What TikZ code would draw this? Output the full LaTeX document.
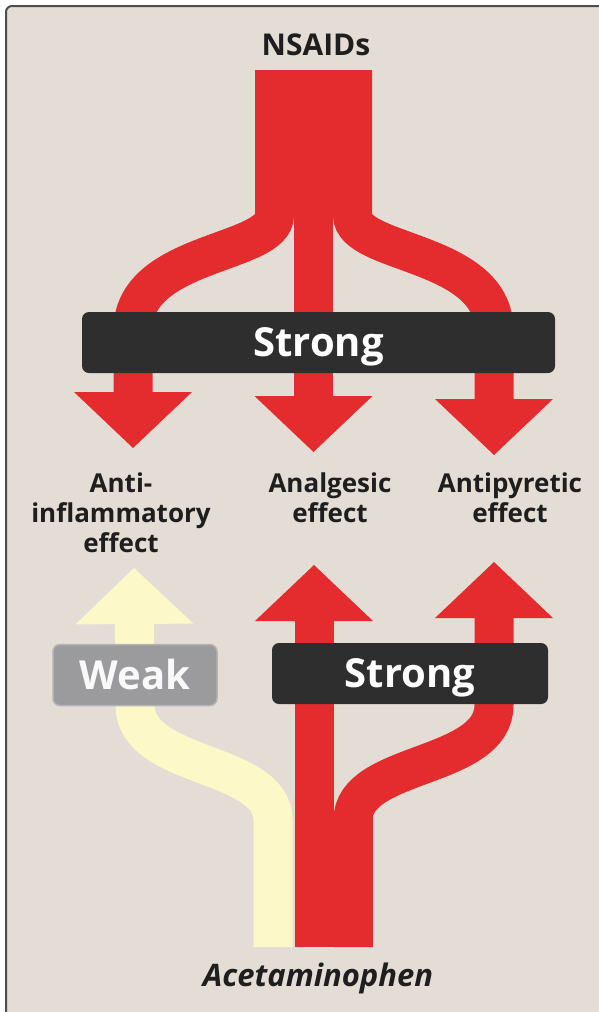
\documentclass[tikz,border=0pt]{standalone}
\usepackage{fontspec}
\setmainfont{Open Sans}
\usetikzlibrary{arrows.meta}

\definecolor{bgbeige}{RGB}{228,221,213}
\definecolor{framegrey}{RGB}{78,78,78}
\definecolor{flowred}{RGB}{228,44,47}
\definecolor{flowyellow}{RGB}{253,248,200}
\definecolor{boxdark}{RGB}{46,46,46}
\definecolor{boxgrey}{RGB}{155,155,157}
\definecolor{textdark}{RGB}{30,30,30}

\begin{document}
\begin{tikzpicture}[x=1pt,y=-1pt,
    flow/.style={line width=39pt,-{Triangle[width=118pt,length=56pt,line width=0pt]}},
    tag/.style={rounded corners=7pt,text=white,inner sep=0pt,minimum height=61pt,
        text height=28pt,text depth=0pt,font=\fontsize{40}{42}\selectfont\bfseries},
    effect/.style={align=center,text=textdark,font=\fontsize{26}{30}\selectfont\bfseries}]
    \useasboundingbox (0,0) rectangle (598,1012);
    \fill[white] (0,0) rectangle (598,1012);
    \fill[bgbeige,rounded corners=6pt] (6,1030) |- (620,6) -- (620,1030) -- cycle;
    \draw[framegrey,line width=2pt,rounded corners=6pt] (6,1030) |- (620,6);

    % names and effects
    \node[text=textdark,font=\fontsize{30}{32}\selectfont\bfseries] (nsaids) at (316,45) {NSAIDs};
    \node[text=textdark,font=\fontsize{31}{32}\selectfont\bfseries\itshape] (acet) at (318,978) {Acetaminophen};
    \node[effect] (antiinf) at (121,513) {Anti-\\inflammatory\\effect};
    \node[effect] (analg) at (330,498) {Analgesic\\effect};
    \node[effect] (antipyr) at (510,498) {Antipyretic\\effect};

    \coordinate (topL) at (274.5,70);
    \coordinate (topM) at (313.5,70);
    \coordinate (topR) at (352.5,70);
    \coordinate (downL) at (133,448);
    \coordinate (downM) at (313.5,452);
    \coordinate (downR) at (494,455);
    \coordinate (botY) at (273,947);
    \coordinate (botM) at (314,947);
    \coordinate (botR) at (353,947);
    \coordinate (upY) at (134,568);
    \coordinate (upM) at (314,565);
    \coordinate (upR) at (494,562);

    % NSAIDs
    \fill[flowred] (255,70) rectangle (372,216);
    \draw[flow,flowred] (topL) -- (274.5,215) .. controls (274.5,255) and (133,250) .. (133,330) -- (downL);
    \draw[flow,flowred] (topM) -- (downM);
    \draw[flow,flowred] (topR) -- (352.5,215) .. controls (352.5,255) and (494,250) .. (494,330) -- (downR);
    \node[tag,fill=boxdark,minimum width=473pt] (strongtop) at (318.5,342.5) {Strong};

    % Acetaminophen
    \draw[flow,flowyellow] (botY) -- (273,820) .. controls (273,760) and (135,770) .. (135,705) -- (upY);
    \fill[flowred] (294.5,947) rectangle (373,818);
    \draw[flow,flowred] (botM) -- (upM);
    \draw[flow,flowred] (botR) -- (353,820) .. controls (353,760) and (494,770) .. (494,705) -- (upR);
    \node[tag,fill=boxgrey,draw=boxgrey!75!white,line width=1.5pt,text=white!94!boxgrey,minimum width=164pt] (weak) at (135,675) {Weak};
    \node[tag,fill=boxdark,minimum width=276pt] (strongbot) at (410,673.5) {Strong};
\end{tikzpicture}
\end{document}
